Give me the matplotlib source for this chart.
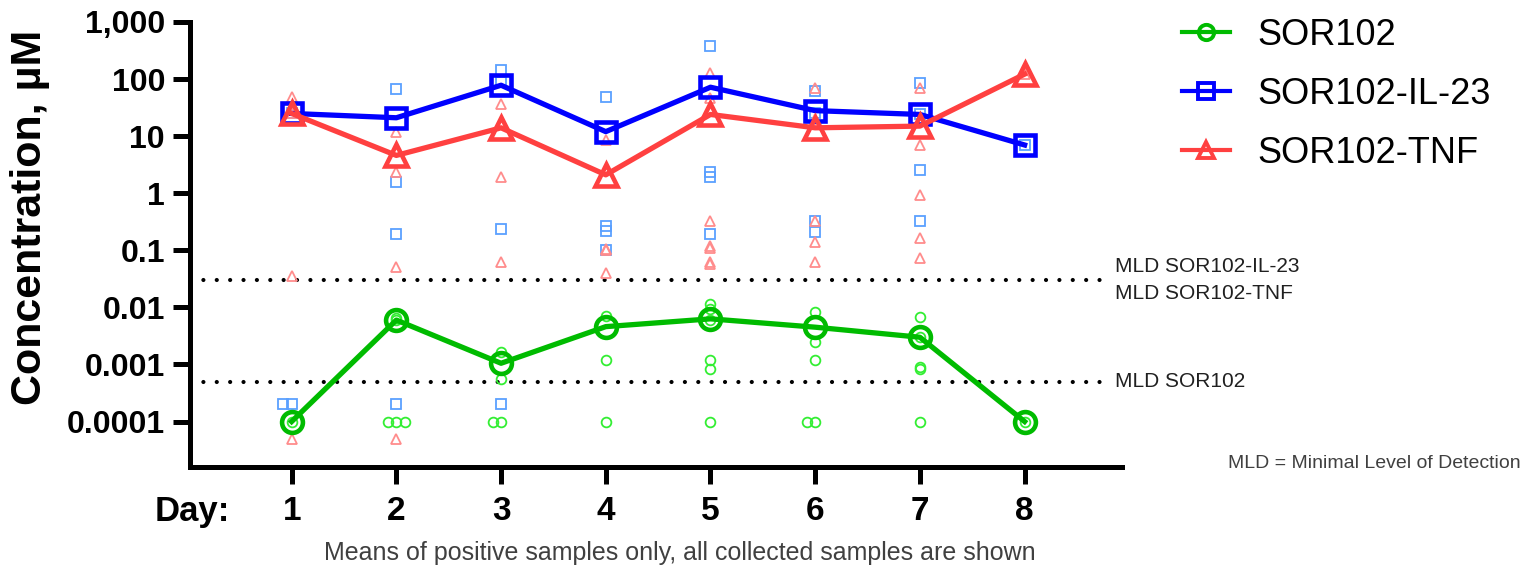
import numpy as np
import matplotlib
matplotlib.use("Agg")
from matplotlib import pyplot as plt
from matplotlib.lines import Line2D

plt.rcParams['font.family'] = ['Liberation Sans', 'DejaVu Sans']

days = [1, 2, 3, 4, 5, 6, 7, 8]

# means of positive samples (uM)
mean_sor102 = [0.0001, 0.0060, 0.00105, 0.0046, 0.0063, 0.0045, 0.0030, 0.0001]
mean_il23 = [25, 21, 78, 12, 72, 28, 24, 7]
mean_tnf = [25, 4.6, 14, 2.1, 24, 14, 15, 122]

# all collected samples, one list per day
pts_sor102 = [
    [0.0001],
    [0.0065, 0.0060, 0.0001, 0.0001, 0.0001],
    [0.00165, 0.00055, 0.0001, 0.0001],
    [0.0071, 0.0012, 0.0001],
    [0.0115, 0.0095, 0.0060, 0.0012, 0.00083, 0.0001],
    [0.0083, 0.0025, 0.0012, 0.0001, 0.0001],
    [0.0069, 0.0030, 0.00089, 0.00082, 0.0001],
    [0.0001],
]
pts_il23 = [
    [25, 0.0002, 0.0002],
    [66, 1.6, 0.19, 0.0002],
    [144, 90, 0.24, 0.0002],
    [48, 0.27, 0.22, 0.10],
    [380, 2.4, 1.95, 0.19],
    [61, 25, 0.33, 0.21],
    [85, 24, 2.6, 0.33],
    [7],
]
pts_tnf = [
    [48, 25, 0.035, 0.00005],
    [12, 2.4, 0.051, 0.00005],
    [36, 1.9, 0.063],
    [8.5, 0.105, 0.10, 0.04],
    [126, 46, 0.33, 0.12, 0.11, 0.063, 0.058],
    [69, 20, 0.33, 0.14, 0.062],
    [69, 6.9, 0.95, 0.165, 0.074],
    [122],
]

mld_protein = 0.03
mld_sor102 = 0.0005

ytick_vals = [0.0001, 0.001, 0.01, 0.1, 1, 10, 100, 1000]
ytick_labels = ['0.0001', '0.001', '0.01', '0.1', '1', '10', '100', '1,000']

series = [
    ('SOR102', mean_sor102, pts_sor102, 'o', '#00BB00', '#33EE33'),
    ('SOR102-IL-23', mean_il23, pts_il23, 's', '#0000FF', '#5AA0FF'),
    ('SOR102-TNF', mean_tnf, pts_tnf, '^', '#FF4040', '#FF8C8C'),
]
msize = {'o': 15, 's': 15, '^': 16}
small = {'o': 7, 's': 6.5, '^': 7}


def spread(vals, step=0.08):
    # repeated values sit side by side, like a scatter plot
    xs = []
    for i, v in enumerate(vals):
        same = [j for j, w in enumerate(vals) if w == v]
        k = same.index(i)
        xs.append((k - len(same) // 2) * step)
    return xs


fig = plt.figure(figsize=(15.23, 5.67), dpi=100)
ax = fig.add_axes([0.1248, 0.1764, 0.6119, 0.7848])
ax.set_yscale('log')
ax.set_xlim(0.03, 8.93)
ax.set_ylim(1.6e-5, 1000)

# individual samples
for name, means, pts, mk, col, light in series:
    for d, vals in zip(days, pts):
        off = spread(vals)
        ax.plot([d + o for o in off], vals, ls='none', marker=mk, ms=small[mk],
                mfc='none', mec=light, mew=1.3, zorder=2)

# means
for name, means, pts, mk, col, light in series:
    ax.plot(days, means, color=col, lw=3.8, marker=mk, ms=msize[mk],
            mfc='none', mec=col, mew=3.3, zorder=3)

# detection limits
for lvl in [mld_protein, mld_sor102]:
    ax.plot([0.03, 8.81], [lvl, lvl], color='black', lw=3.0,
            ls=(0, (0.01, 3.2)), dash_capstyle='round', zorder=1)
ax.annotate('MLD SOR102-IL-23', xy=(8.86, mld_protein), xytext=(0, 10),
            textcoords='offset points', va='center', ha='left', fontsize=15,
            color='#202020', annotation_clip=False)
ax.annotate('MLD SOR102-TNF', xy=(8.86, mld_protein), xytext=(0, -9.5),
            textcoords='offset points', va='center', ha='left', fontsize=15,
            color='#202020', annotation_clip=False)
ax.annotate('MLD SOR102', xy=(8.86, mld_sor102), xytext=(0, 0),
            textcoords='offset points', va='center', ha='left', fontsize=15,
            color='#202020', annotation_clip=False)

ax.set_yticks(ytick_vals)
ax.set_yticklabels(ytick_labels, fontsize=23, fontweight='bold')
ax.yaxis.set_minor_locator(matplotlib.ticker.NullLocator())
ax.set_xticks(days)
ax.set_xticklabels([str(d) for d in days], fontsize=24, fontweight='bold')
ax.tick_params(axis='both', width=3.6, length=12)
ax.tick_params(axis='y', pad=6)
ax.tick_params(axis='x', pad=9)
for s in ['top', 'right']:
    ax.spines[s].set_visible(False)
for s in ['left', 'bottom']:
    ax.spines[s].set_linewidth(3.6)

fig.text(192 / 1523, 1 - 512 / 567, 'Day:', fontsize=25, fontweight='bold',
         ha='center', va='center')
fig.text(30 / 1523, 1 - 217 / 567, 'Concentration, µM', fontsize=31,
         fontweight='bold', rotation=90, ha='center', va='center')
fig.text(680 / 1523, 1 - 553 / 567,
         'Means of positive samples only, all collected samples are shown',
         fontsize=18, color='#404040', ha='center', va='center')
fig.text(1228 / 1523, 1 - 463 / 567, 'MLD = Minimal Level of Detection',
         fontsize=14, color='#404040', ha='left', va='center')

handles = [Line2D([], [], color=col, lw=3, marker=mk, ms=11, mfc='none',
                  mec=col, mew=2.8) for name, m, p, mk, col, light in series]
fig.legend(handles, [s[0] for s in series], loc='upper left',
           bbox_to_anchor=(1182 / 1523, 1 - 18 / 567), frameon=False,
           fontsize=26, handlelength=1.33, handletextpad=0.75,
           labelspacing=0.66, borderpad=0, borderaxespad=0)

fig.savefig('out.png', dpi=100)
